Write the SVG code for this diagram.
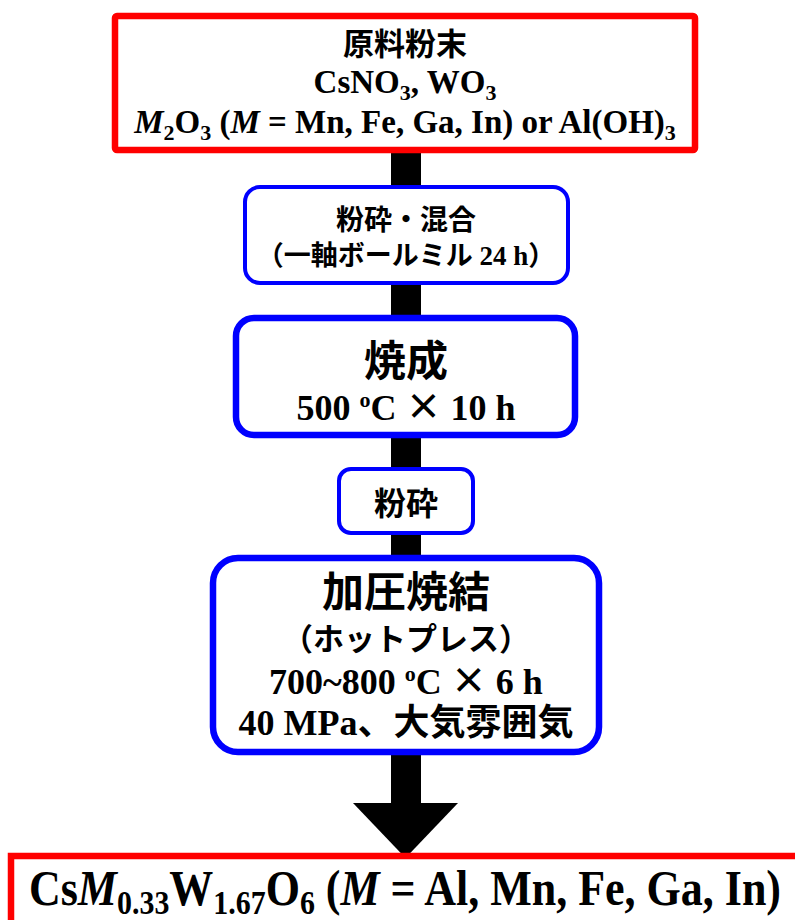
<svg xmlns="http://www.w3.org/2000/svg" width="795" height="920" viewBox="0 0 795 920">
<style>
.red{fill:#fff;stroke:#ff0000;stroke-width:6.5}
.blue{fill:#fff;stroke:#0000ff}
.t{font-family:"Liberation Serif","Noto Sans CJK JP",serif;font-weight:bold;fill:#000;text-anchor:middle}
.j{font-family:"Noto Sans CJK JP",sans-serif;font-weight:bold;fill:#000;text-anchor:middle}
.x{font-family:"Noto Sans CJK JP",sans-serif}
.i{font-style:italic}
</style>
<rect width="795" height="920" fill="#fff"/>
<g id="connectors">
<rect x="391" y="150" width="30" height="655" fill="#000"/>
<polygon points="353,803 458,803 405.5,858" fill="#000"/>
</g>
<g id="raw">
<rect class="red" x="115" y="16" width="580" height="134" rx="2"/>
<text class="j" x="405" y="55" font-size="31">原料粉末</text>
<text class="t" x="405" y="93" font-size="33">CsNO<tspan font-size="22" dy="7">3</tspan><tspan dy="-7">, WO</tspan><tspan font-size="22" dy="7">3</tspan></text>
<text class="t" x="405" y="133" font-size="33"><tspan class="i">M</tspan><tspan font-size="22" dy="7">2</tspan><tspan dy="-7">O</tspan><tspan font-size="22" dy="7">3</tspan><tspan dy="-7"> (</tspan><tspan class="i">M</tspan> = Mn, Fe, Ga, In) or Al(OH)<tspan font-size="22" dy="7">3</tspan></text>
</g>
<g id="mix">
<rect class="blue" stroke-width="4" x="245" y="187" width="323" height="96" rx="15"/>
<text class="j" x="406" y="230" font-size="28">粉砕・混合</text>
<text class="t" x="406" y="265" font-size="27">（一軸ボールミル 24 h）</text>
</g>
<g id="calcine">
<rect class="blue" stroke-width="6.5" x="236" y="318" width="339" height="117" rx="18"/>
<text class="j" x="406" y="376" font-size="42">焼成</text>
<text class="t" x="406" y="420" font-size="36">500 <tspan font-size="22" dy="-13">o</tspan><tspan dy="13">C </tspan><tspan class="x">×</tspan> 10 h</text>
</g>
<g id="grind">
<rect class="blue" stroke-width="4" x="339" y="469" width="134" height="64" rx="12"/>
<text class="j" x="406" y="515" font-size="32">粉砕</text>
</g>
<g id="hotpress">
<rect class="blue" stroke-width="6.5" x="213" y="558" width="386" height="194" rx="25"/>
<text class="j" x="406" y="607" font-size="42">加圧焼結</text>
<text class="j" x="406" y="650" font-size="31">（ホットプレス）</text>
<text class="t" x="406" y="694" font-size="36">700~800 <tspan font-size="22" dy="-13">o</tspan><tspan dy="13">C </tspan><tspan class="x">×</tspan> 6 h</text>
<text class="t" x="406" y="735" font-size="36">40 MPa、大気雰囲気</text>
</g>
<g id="product">
<rect class="red" x="11" y="856" width="800" height="100"/>
<text class="t" transform="translate(405,905) scale(0.88,1)" font-size="50">Cs<tspan class="i">M</tspan><tspan font-size="34" dy="9">0.33</tspan><tspan dy="-9">W</tspan><tspan font-size="34" dy="9">1.67</tspan><tspan dy="-9">O</tspan><tspan font-size="34" dy="9">6</tspan><tspan dy="-9"> (</tspan><tspan class="i">M</tspan> = Al, Mn, Fe, Ga, In)</text>
</g>
</svg>
